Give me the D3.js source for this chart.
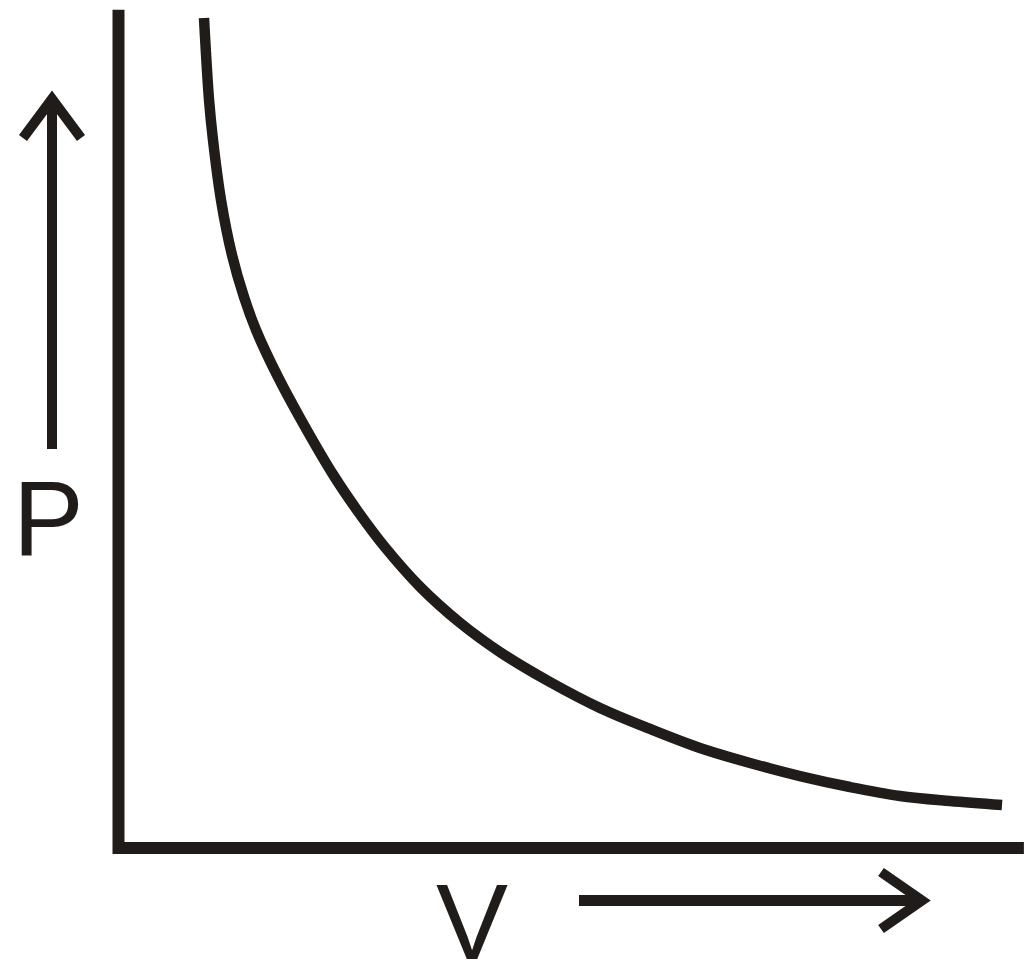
<!DOCTYPE html>
<html>
<head>
<meta charset="utf-8">
<script src="https://cdn.jsdelivr.net/npm/d3@7/dist/d3.min.js"></script>
<style>
  html, body { margin: 0; padding: 0; background: #fff; }
  svg { display: block; }
</style>
</head>
<body>
<svg id="chart" width="1031" height="969"></svg>
<script>
// Curve values (V, P in arbitrary units)
const curveV = [0.950, 1.006, 1.050, 1.139, 1.261, 1.394, 1.528, 1.772, 2.017, 2.383, 2.661, 2.961, 3.350, 3.794, 4.239, 4.794, 5.350, 5.906, 6.461, 7.017, 7.572, 8.128, 8.683, 9.239, 9.817];
const curveP = [10.00, 9.012, 8.530, 7.807, 7.145, 6.639, 6.241, 5.675, 5.181, 4.501, 4.054, 3.623, 3.148, 2.714, 2.361, 2.000, 1.687, 1.434, 1.205, 1.024, 0.867, 0.735, 0.627, 0.566, 0.518];
const axisLabels = ["P", "V"];
const vDomain = [0, 10];
const pDomain = [0, 10];
const vAxisEnd = 10.06;
const pAxisEnd = 10.1;

const ink = "#201c19";
const svg = d3.select("#chart");

const x = d3.scaleLinear().domain(vDomain).range([118.5, 1018.5]);
const y = d3.scaleLinear().domain(pDomain).range([848, 18]);

// Axes frame
const frame = [[0, pAxisEnd], [0, 0], [vAxisEnd, 0]];
svg.append("path")
  .attr("d", d3.line().x(d => x(d[0])).y(d => y(d[1]))(frame))
  .attr("fill", "none")
  .attr("stroke", ink)
  .attr("stroke-width", 12)
  .attr("stroke-linejoin", "miter");

// Curve
const pts = curveV.map((v, i) => [v, curveP[i]]);
svg.append("path")
  .attr("d", d3.line().x(d => x(d[0])).y(d => y(d[1])).curve(d3.curveCatmullRom.alpha(0.5))(pts))
  .attr("fill", "none")
  .attr("stroke", ink)
  .attr("stroke-width", 10.5)
  .attr("stroke-linecap", "butt");

// Up arrow (P direction)
const arrowLine = d3.line();
svg.append("path").attr("d", arrowLine([[52, 449], [52, 100]]))
  .attr("stroke", ink).attr("stroke-width", 10).attr("fill", "none");
svg.append("path").attr("d", arrowLine([[23, 138], [52, 99], [81, 138]]))
  .attr("stroke", ink).attr("stroke-width", 10).attr("fill", "none")
  .attr("stroke-linejoin", "miter");

// Right arrow (V direction)
svg.append("path").attr("d", arrowLine([[579, 900.5], [918, 900.5]]))
  .attr("stroke", ink).attr("stroke-width", 11).attr("fill", "none");
svg.append("path").attr("d", arrowLine([[881, 872], [922, 900.5], [881, 929]]))
  .attr("stroke", ink).attr("stroke-width", 10).attr("fill", "none")
  .attr("stroke-linejoin", "miter");

// Labels
svg.append("text")
  .attr("x", 13).attr("y", 555)
  .attr("font-family", "'Liberation Sans', Arial, sans-serif")
  .attr("font-size", 106)
  .attr("fill", ink)
  .text(axisLabels[0]);
svg.append("text")
  .attr("x", 436).attr("y", 959)
  .attr("font-family", "'Liberation Sans', Arial, sans-serif")
  .attr("font-size", 108)
  .attr("fill", ink)
  .text(axisLabels[1]);
</script>
</body>
</html>
